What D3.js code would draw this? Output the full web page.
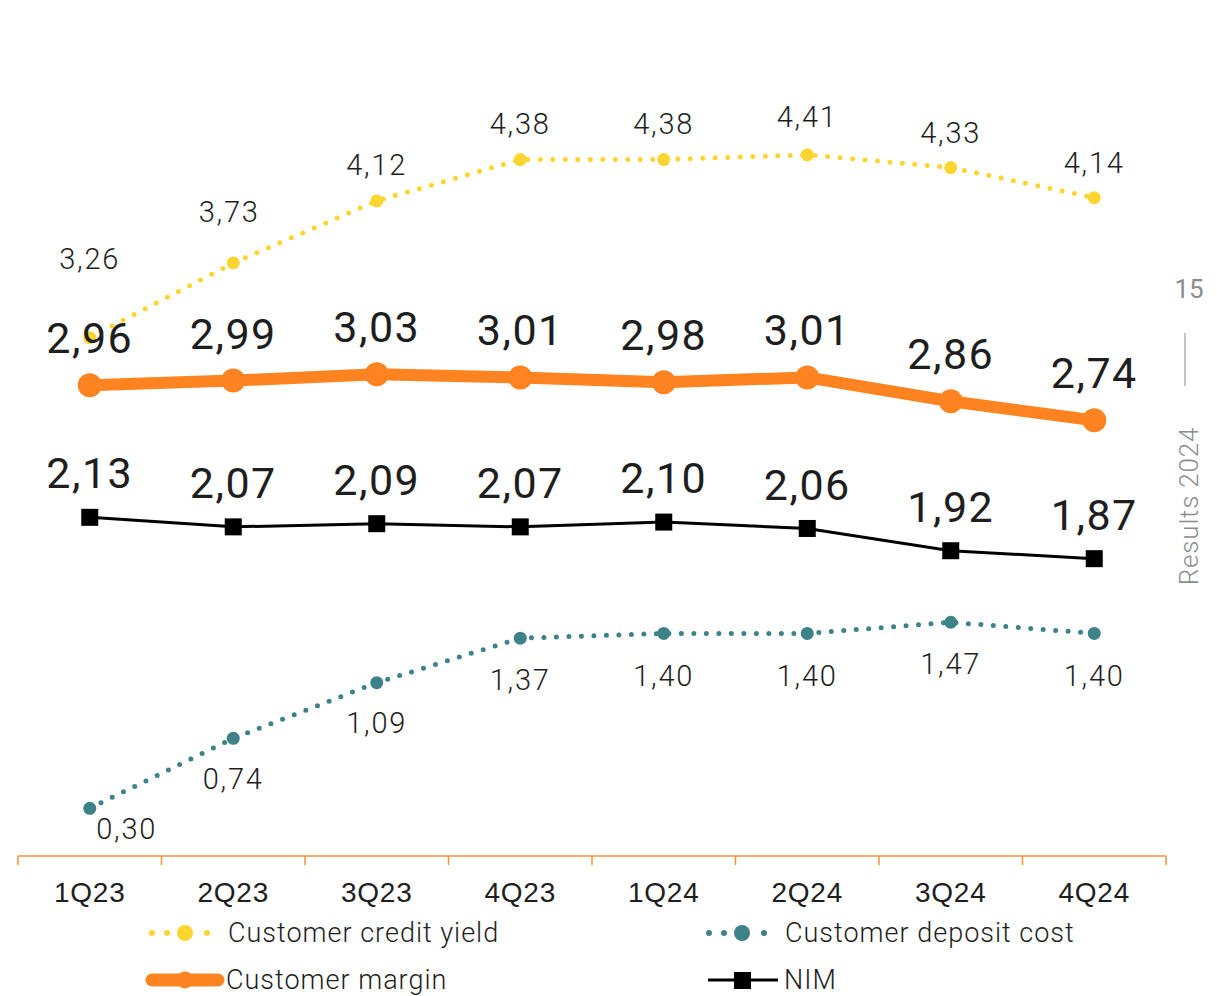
<!DOCTYPE html>
<html>
<head>
<meta charset="utf-8">
<script src="https://cdn.jsdelivr.net/npm/d3@7"></script>
<style>
  html, body { margin: 0; padding: 0; background: #fff; }
  svg { display: block; font-family: Roboto, "DejaVu Sans Condensed", sans-serif; }
</style>
</head>
<body>
<svg id="chart" width="1217" height="996"></svg>
<script>
// Quarterly categories
const quarters = ["1Q23", "2Q23", "3Q23", "4Q23", "1Q24", "2Q24", "3Q24", "4Q24"];

// Series values (%)
const creditYield  = [3.26, 3.73, 4.12, 4.38, 4.38, 4.41, 4.33, 4.14];
const customerMargin = [2.96, 2.99, 3.03, 3.01, 2.98, 3.01, 2.86, 2.74];
const nim          = [2.13, 2.07, 2.09, 2.07, 2.10, 2.06, 1.92, 1.87];
const depositCost  = [0.30, 0.74, 1.09, 1.37, 1.40, 1.40, 1.47, 1.40];

const legendLabels = ["Customer credit yield", "Customer deposit cost", "Customer margin", "NIM"];

const colors = {
  yield: "#FDD530",
  deposit: "#3E8289",
  margin: "#FF8320",
  nim: "#000000",
  axis: "#F7913A",
  text: "#1e1e1e",
  side: "#8c8c8c"
};

const svg = d3.select("#chart");
const fmt = v => d3.format(".2f")(v).replace(".", ",");

const x = d3.scaleBand().domain(quarters).range([18, 1166]);
const y = d3.scaleLinear().domain([0, 5]).range([856, 61]);
const cx = q => x(q) + x.bandwidth() / 2;

// Category axis along the bottom
const axis = d3.axisBottom(x).tickSize(0).tickPadding(0).tickFormat("");
const gAxis = svg.append("g").attr("transform", `translate(0,${y(0)})`).call(axis);
gAxis.select(".domain").attr("stroke", colors.axis).attr("stroke-width", 1.5)
  .attr("d", `M18,0H1166`);
gAxis.selectAll(".tick").remove();
const bounds = quarters.map(q => x(q)).concat([x.range()[1]]);
gAxis.selectAll("line.sep").data(bounds).join("line")
  .attr("class", "sep")
  .attr("x1", d => d).attr("x2", d => d)
  .attr("y1", 0).attr("y2", 9)
  .attr("stroke", colors.axis).attr("stroke-width", 1.5);
gAxis.selectAll("text.q").data(quarters).join("text")
  .attr("class", "q")
  .attr("x", d => cx(d)).attr("y", 36)
  .attr("dy", "0.35em")
  .attr("text-anchor", "middle")
  .attr("font-size", 28)
  .attr("letter-spacing", 0.8)
  .attr("fill", colors.text)
  .text(d => d);

const line = d3.line().x((d, i) => cx(quarters[i])).y(d => y(d));

// Label nudges for the crowded start of the yield / deposit series
const yieldLabelDy = [-79, -51, -36, -36, -36, -38, -35, -35];
const yieldLabelDx = [0, -4, 0, 0, 0, 0, 0, 0];
const depositLabelDy = [21, 41, 40, 42, 42, 42, 42, 42];
const depositLabelDx = [37, 0, 0, 0, 0, 0, 0, 0];

// Customer credit yield (dotted)
svg.append("path").datum(creditYield)
  .attr("d", line).attr("fill", "none")
  .attr("stroke", colors.yield).attr("stroke-width", 5)
  .attr("stroke-linecap", "round").attr("stroke-dasharray", "0 12.5");
svg.selectAll("circle.yield").data(creditYield).join("circle")
  .attr("cx", (d, i) => cx(quarters[i])).attr("cy", d => y(d)).attr("r", 6.5)
  .attr("fill", colors.yield);
svg.selectAll("text.yield").data(creditYield).join("text")
  .attr("x", (d, i) => cx(quarters[i]) + yieldLabelDx[i]).attr("y", (d, i) => y(d) + yieldLabelDy[i])
  .attr("dy", "0.35em").attr("text-anchor", "middle")
  .attr("font-size", 29).attr("font-weight", 300).attr("letter-spacing", 1.8).attr("fill", colors.text)
  .text(d => fmt(d));

// Customer deposit cost (dotted)
svg.append("path").datum(depositCost)
  .attr("d", line).attr("fill", "none")
  .attr("stroke", colors.deposit).attr("stroke-width", 5)
  .attr("stroke-linecap", "round").attr("stroke-dasharray", "0 12.5");
svg.selectAll("circle.deposit").data(depositCost).join("circle")
  .attr("cx", (d, i) => cx(quarters[i])).attr("cy", d => y(d)).attr("r", 6.5)
  .attr("fill", colors.deposit);
svg.selectAll("text.deposit").data(depositCost).join("text")
  .attr("x", (d, i) => cx(quarters[i]) + depositLabelDx[i]).attr("y", (d, i) => y(d) + depositLabelDy[i])
  .attr("dy", "0.35em").attr("text-anchor", "middle")
  .attr("font-size", 29).attr("font-weight", 300).attr("letter-spacing", 1.8).attr("fill", colors.text)
  .text(d => fmt(d));

// Customer margin (thick)
svg.append("path").datum(customerMargin)
  .attr("d", line).attr("fill", "none")
  .attr("stroke", colors.margin).attr("stroke-width", 12)
  .attr("stroke-linejoin", "round");
svg.selectAll("circle.margin").data(customerMargin).join("circle")
  .attr("cx", (d, i) => cx(quarters[i])).attr("cy", d => y(d)).attr("r", 12)
  .attr("fill", colors.margin);
svg.selectAll("text.margin").data(customerMargin).join("text")
  .attr("x", (d, i) => cx(quarters[i])).attr("y", d => y(d) - 47)
  .attr("dy", "0.35em").attr("text-anchor", "middle")
  .attr("font-size", 43).attr("letter-spacing", 1.5).attr("fill", colors.text)
  .text(d => fmt(d));

// NIM
svg.append("path").datum(nim)
  .attr("d", line).attr("fill", "none")
  .attr("stroke", colors.nim).attr("stroke-width", 3);
svg.selectAll("rect.nim").data(nim).join("rect")
  .attr("x", (d, i) => cx(quarters[i]) - 8.5).attr("y", d => y(d) - 8.5)
  .attr("width", 17).attr("height", 17)
  .attr("fill", colors.nim);
svg.selectAll("text.nim").data(nim).join("text")
  .attr("x", (d, i) => cx(quarters[i])).attr("y", d => y(d) - 44)
  .attr("dy", "0.35em").attr("text-anchor", "middle")
  .attr("font-size", 43).attr("letter-spacing", 1.5).attr("fill", colors.text)
  .text(d => fmt(d));

// Legend
const lg = svg.append("g").attr("font-size", 27).attr("letter-spacing", 1).attr("fill", colors.text);
function dottedKey(g, x0, yy, color) {
  [0, 15, 55].forEach(dx => g.append("circle").attr("cx", x0 + dx).attr("cy", yy).attr("r", 3).attr("fill", color));
  g.append("circle").attr("cx", x0 + 33).attr("cy", yy).attr("r", 8).attr("fill", color);
}
dottedKey(lg, 152, 933, colors.yield);
lg.append("text").attr("x", 228).attr("y", 933).attr("dy", "0.35em").attr("font-weight", 300).text(legendLabels[0]);
dottedKey(lg, 709, 933, colors.deposit);
lg.append("text").attr("x", 785).attr("y", 933).attr("dy", "0.35em").attr("font-weight", 300).text(legendLabels[1]);

lg.append("line").attr("x1", 152).attr("x2", 218).attr("y1", 980).attr("y2", 980)
  .attr("stroke", colors.margin).attr("stroke-width", 13).attr("stroke-linecap", "round");
lg.append("circle").attr("cx", 185).attr("cy", 980).attr("r", 8.5).attr("fill", colors.margin);
lg.append("text").attr("x", 226).attr("y", 980).attr("dy", "0.35em").attr("font-weight", 300).text(legendLabels[2]);

lg.append("line").attr("x1", 708).attr("x2", 778).attr("y1", 980).attr("y2", 980)
  .attr("stroke", colors.nim).attr("stroke-width", 3);
lg.append("rect").attr("x", 734).attr("y", 972).attr("width", 17).attr("height", 17).attr("fill", colors.nim);
lg.append("text").attr("x", 784).attr("y", 980).attr("dy", "0.35em").attr("font-weight", 300).text(legendLabels[3]);

// Page marker on the right edge
const side = svg.append("g").attr("fill", colors.side);
side.append("text").attr("x", 1189).attr("y", 289).attr("dy", "0.35em")
  .attr("text-anchor", "middle").attr("font-size", 26).text("15");
side.append("line").attr("x1", 1185).attr("x2", 1185).attr("y1", 333).attr("y2", 386)
  .attr("stroke", "#b0b0b0").attr("stroke-width", 1.5);
side.append("text").attr("transform", "translate(1189,506) rotate(-90)")
  .attr("dy", "0.35em").attr("text-anchor", "middle").attr("font-size", 26)
  .attr("letter-spacing", 0.8).attr("font-weight", 300).text("Results 2024");
</script>
</body>
</html>
